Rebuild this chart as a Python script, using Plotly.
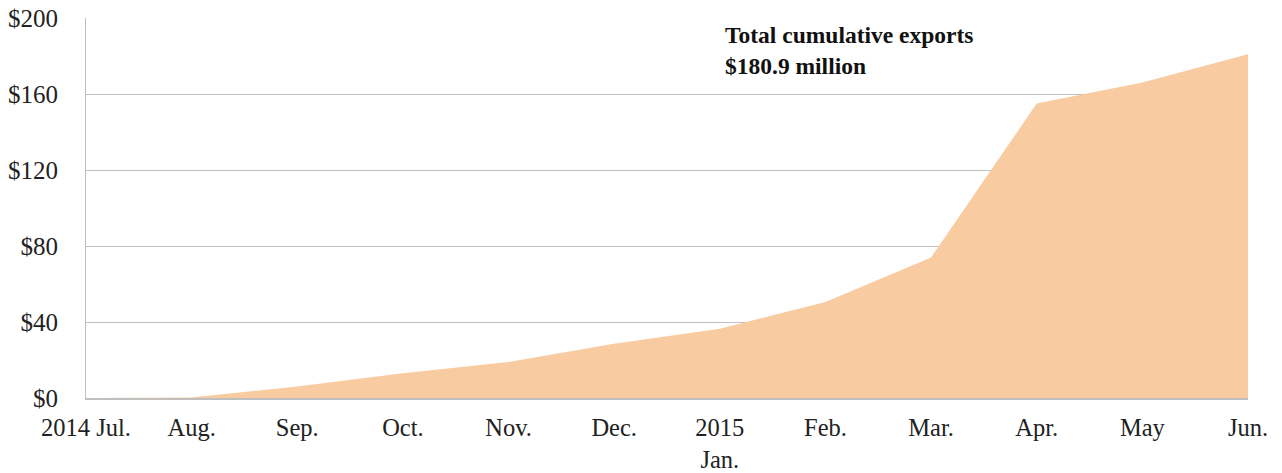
import plotly.graph_objects as go

months = ["2014 Jul.", "Aug.", "Sep.", "Oct.", "Nov.", "Dec.", "2015<br>Jan.",
          "Feb.", "Mar.", "Apr.", "May", "Jun."]
cumulative_exports = [0, 0.3, 6, 13, 19, 28.5, 36.5, 50.5, 74, 155, 166, 180.9]
y_ticks = [0, 40, 80, 120, 160, 200]
y_tick_labels = ["$0", "$40", "$80", "$120", "$160", "$200"]

fig = go.Figure()
fig.add_trace(go.Scatter(
    x=months, y=cumulative_exports, mode="lines", fill="tozeroy",
    line=dict(width=0, color="#F7C9A0"), fillcolor="#F8CBA0",
    hoverinfo="x+y", showlegend=False,
))

fig.add_annotation(
    x=0.548, y=0.995, xref="paper", yref="paper", xanchor="left", yanchor="top",
    text="<b>Total cumulative exports<br>$180.9 million</b>", showarrow=False,
    align="left", font=dict(family="Liberation Serif", size=23.5, color="#111111"),
)

fig.update_layout(
    width=1282, height=473,
    margin=dict(l=86, r=34, t=18, b=75),
    paper_bgcolor="white", plot_bgcolor="white",
    font=dict(family="Liberation Serif", size=25, color="#222222"),
    xaxis=dict(
        type="category", range=[0, 11], showgrid=False, automargin=False,
        showline=True, linecolor="#BFBFBF", linewidth=1.5,
        ticks="", ticklabelstandoff=7, tickangle=0,
        tickfont=dict(family="Liberation Serif", size=24.5, color="#222222"),
    ),
    yaxis=dict(
        range=[0, 200], tickvals=y_ticks, ticktext=y_tick_labels, automargin=False,
        showgrid=True, gridcolor="#BFBFBF", gridwidth=1.2,
        showline=True, linecolor="#BFBFBF", linewidth=1.2,
        zeroline=False, ticks="", ticklabelstandoff=22,
    ),
)

fig.write_html("out.html")
